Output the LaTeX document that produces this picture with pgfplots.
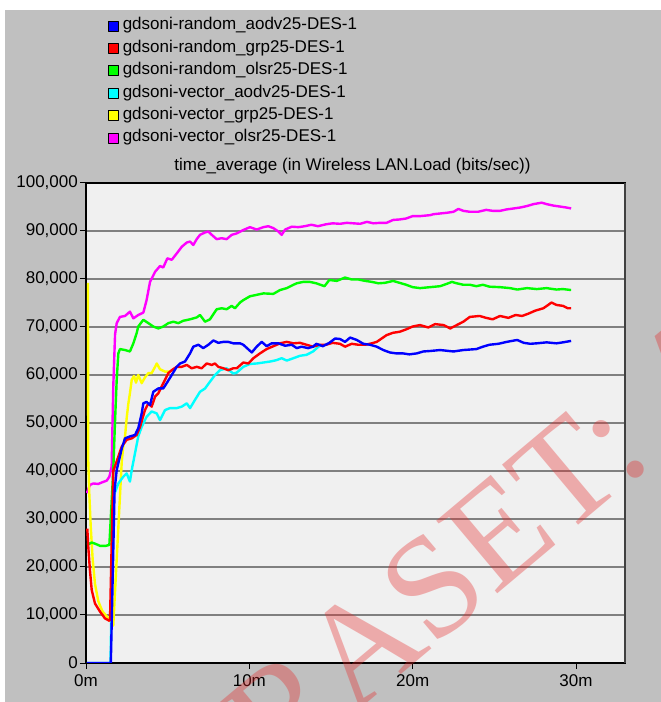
\documentclass[border=0pt]{standalone}
\usepackage{pgfplots}
\pgfplotsset{compat=1.18}
\usepackage{fontspec}
\setmainfont{Liberation Sans}
\newfontfamily\wmfont{Liberation Serif}
\definecolor{outerbg}{RGB}{192,192,192}
\definecolor{plotbg}{RGB}{240,240,240}
\definecolor{gridc}{RGB}{128,128,128}
\definecolor{cBlue}{RGB}{0,0,255}
\definecolor{cRed}{RGB}{255,0,0}
\definecolor{cGreen}{RGB}{0,255,0}
\definecolor{cCyan}{RGB}{0,255,255}
\definecolor{cYellow}{RGB}{255,255,0}
\definecolor{cMagenta}{RGB}{255,0,255}
\definecolor{wmred}{RGB}{230,40,40}
\newcommand{\chartfont}{\fontsize{17bp}{20bp}\selectfont}
\begin{document}
\begin{tikzpicture}
\fill[white] (0bp,0bp) rectangle (661bp,702bp);
\fill[outerbg] (5bp,0bp) rectangle (661bp,692bp);
\begin{axis}[
  at={(86bp,39bp)}, anchor=south west,
  width=539bp, height=480bp, scale only axis,
  xmin=0, xmax=33, ymin=0, ymax=100000,
  axis background/.style={fill=plotbg},
  xtick={0,10,20,30}, xticklabels={0m,10m,20m,30m},
  ytick={0,10000,...,100000},
  scaled y ticks=false,
  yticklabel style={/pgf/number format/fixed, /pgf/number format/1000 sep={,}, /pgf/number format/assume math mode=true, inner sep=2bp},
  xticklabel style={inner sep=5bp},
  tick label style={font=\chartfont},
  tick align=outside, tick pos=left,
  major tick length=6bp,
  tick style={black, line width=1bp},
  ymajorgrids, grid style={color=gridc, line width=1.4bp},
  axis line style={line width=1.5bp, black},
  title={time\_average (in Wireless LAN.Load (bits/sec))},
  title style={font=\chartfont, at={(axis description cs:0.5,1)}, anchor=base, yshift=7bp, xshift=-3bp, inner sep=0pt},
  legend style={at={(axis description cs:0.0408,1.3438)}, anchor=north west, draw=none, fill=none, inner sep=0pt, outer sep=0pt, font=\chartfont, row sep=6.4bp, column sep=4bp, nodes={inner sep=0pt, text height=12bp, text depth=4bp}},
  legend cell align=left,
  reverse legend,
  legend image code/.code={\draw[#1, draw=black, fill, line width=0.8bp] (0bp,-5bp) rectangle (10bp,5bp);},
  every axis plot/.append style={line width=2.4bp, line join=round},
]
% magenta: vector_olsr
\addplot[color=cMagenta] coordinates {(0.05,35400) (0.24,37100) (0.45,37400) (0.75,37300) (0.96,37600) (1.27,38000) (1.43,38800) (1.57,40900) (1.67,57600) (1.78,68500) (1.88,70800) (2.08,72100) (2.39,72300) (2.69,73200) (2.9,71800) (3.2,72500) (3.51,73000) (3.71,75600) (3.92,79400) (4.23,81500) (4.53,82700) (4.73,82400) (4.98,84300) (5.25,84000) (5.55,85300) (5.86,86700) (6.17,87600) (6.37,87800) (6.57,87100) (6.78,88300) (6.98,89200) (7.29,89700) (7.49,89900) (7.7,89200) (8.0,88300) (8.31,88500) (8.61,88300) (8.92,89200) (9.23,89500) (9.63,90200) (10.04,90800) (10.45,90300) (10.86,90800) (11.16,91000) (11.47,90600) (11.78,89900) (11.98,89200) (12.19,90300) (12.6,90900) (13.0,90800) (13.4,91000) (13.8,91300) (14.2,91000) (14.7,91400) (15.1,91600) (15.55,91500) (15.96,91700) (16.37,91600) (16.78,91500) (17.2,91900) (17.6,91600) (18.0,91700) (18.4,91700) (18.8,92300) (19.2,92400) (19.6,92600) (20.0,93100) (20.45,93100) (21.07,93300) (21.27,93500) (22.1,93800) (22.5,94000) (22.8,94600) (23.1,94200) (23.5,94000) (24.0,94000) (24.5,94400) (24.9,94200) (25.35,94200) (25.76,94500) (26.2,94700) (26.6,94900) (27.0,95200) (27.4,95600) (27.9,95900) (28.2,95600) (28.6,95300) (29.0,95100) (29.4,94900) (29.7,94700)};
\addlegendentry{gdsoni-vector\_olsr25-DES-1}
% yellow: vector_grp
\addplot[color=cYellow] coordinates {(0.12,79200) (0.13,60000) (0.14,42000) (0.2,35400) (0.29,28400) (0.41,21500) (0.55,16500) (0.75,12900) (1.0,10800) (1.3,9600) (1.45,9000) (1.67,7800) (2.19,42000) (2.28,45100) (2.39,47200) (2.49,51000) (2.59,54000) (2.69,56200) (2.8,59000) (2.94,59800) (3.06,58400) (3.2,60000) (3.41,58300) (3.61,59500) (3.82,60400) (4.02,60400) (4.23,61700) (4.33,62400) (4.53,61200) (4.84,60700) (5.14,60700)};
\addlegendentry{gdsoni-vector\_grp25-DES-1}
% cyan: vector_aodv
\addplot[color=cCyan] coordinates {(0.05,0) (1.5,0) (1.67,34600) (1.98,37400) (2.28,38800) (2.49,39500) (2.69,37800) (2.8,40200) (3.0,43700) (3.2,47200) (3.41,49200) (3.71,51300) (4.02,52400) (4.33,52000) (4.53,50600) (4.84,52700) (5.14,53100) (5.55,53100) (5.86,53400) (6.17,54100) (6.37,53100) (6.67,54800) (6.98,56500) (7.29,57200) (7.59,58600) (7.9,60000) (8.2,61000) (8.61,61400) (9.02,60300) (9.23,60500) (9.63,61700) (10.04,62300) (10.45,62400) (10.86,62600) (11.27,62800) (11.67,63100) (11.98,63500) (12.29,63000) (12.7,63500) (13.1,64000) (13.5,64200) (13.9,64900) (14.2,65800) (14.4,66300)};
\addlegendentry{gdsoni-vector\_aodv25-DES-1}
% green: random_olsr
\addplot[color=cGreen] coordinates {(0.08,24600) (0.35,25100) (0.6,24800) (0.86,24400) (1.2,24400) (1.43,24600) (1.67,40200) (1.78,50600) (1.88,59000) (1.98,64500) (2.08,65400) (2.39,65200) (2.69,64900) (2.9,66600) (3.1,68700) (3.2,70100) (3.51,71500) (3.82,70800) (4.12,70100) (4.43,69700) (4.73,70100) (5.04,70800) (5.35,71100) (5.65,70800) (5.96,71300) (6.37,71600) (6.78,72000) (6.98,72500) (7.29,71100) (7.59,71600) (8.0,73700) (8.31,73900) (8.61,73700) (8.92,74400) (9.12,73900) (9.43,75100) (9.63,75600) (10.04,76400) (10.45,76700) (10.86,77000) (11.47,76900) (11.88,77700) (12.29,78100) (12.7,78800) (12.9,79100) (13.3,79400) (13.7,79400) (14.1,79100) (14.6,78500) (14.9,79800) (15.35,79600) (15.86,80300) (16.27,79900) (16.67,79900) (17.1,79600) (17.5,79400) (17.9,79100) (18.3,79200) (18.8,79600) (19.2,79200) (19.6,78800) (20.0,78300) (20.45,78100) (21.07,78300) (21.68,78500) (22.1,79000) (22.4,79400) (22.7,79100) (23.1,78800) (23.5,78800) (23.9,78500) (24.3,78800) (24.7,78400) (25.35,78300) (25.96,78100) (26.4,77800) (27.0,78100) (27.6,77900) (28.2,78100) (28.8,77800) (29.2,77900) (29.7,77700)};
\addlegendentry{gdsoni-random\_olsr25-DES-1}
% red: random_grp
\addplot[color=cRed] coordinates {(0.08,28000) (0.14,24200) (0.24,19400) (0.35,15200) (0.55,12400) (0.86,10700) (1.16,9300) (1.43,8800) (1.47,9000) (1.67,40000) (1.98,43000) (2.19,45100) (2.49,46500) (2.8,46800) (3.1,47500) (3.31,49200) (3.61,52700) (3.82,54100) (4.02,53400) (4.23,55500) (4.43,56200) (4.63,57600) (4.84,59000) (5.04,60400) (5.25,61000) (5.55,61700) (5.86,61700) (6.17,62100) (6.47,61400) (6.78,61700) (7.08,61400) (7.39,62400) (7.7,62100) (7.9,62400) (8.1,61700) (8.41,61400) (8.71,61000) (9.02,61400) (9.23,61400) (9.63,62600) (9.94,62400) (10.25,63500) (10.65,64500) (11.06,65400) (11.47,66000) (11.88,66600) (12.29,66900) (12.7,66600) (13.1,66700) (13.5,66300) (13.9,65900) (14.3,66300) (14.7,66300) (15.1,66700) (15.55,66500) (15.86,65900) (16.27,66500) (16.67,66300) (17.1,66300) (17.5,66600) (17.8,66900) (18.1,67600) (18.4,68300) (18.8,68800) (19.2,69000) (19.6,69500) (20.0,70100) (20.45,70400) (20.96,69900) (21.37,70600) (21.9,70400) (22.3,69700) (22.7,70400) (23.1,71100) (23.5,72100) (24.1,72300) (24.5,71900) (24.9,71600) (25.35,72300) (25.86,71900) (26.3,72500) (26.7,72300) (27.1,72800) (27.5,73400) (28.0,73900) (28.3,74600) (28.5,75100) (28.8,74600) (29.2,74400) (29.5,73900) (29.7,73900)};
\addlegendentry{gdsoni-random\_grp25-DES-1}
% blue: random_aodv
\addplot[color=cBlue] coordinates {(0.05,0) (1.52,0) (1.75,36000) (1.88,40200) (2.19,44700) (2.39,46800) (2.69,47200) (3.0,47500) (3.2,48900) (3.41,52000) (3.51,54100) (3.71,54400) (3.92,53700) (4.12,56500) (4.43,57200) (4.73,57200) (4.94,58300) (5.25,60000) (5.55,61700) (5.76,62400) (6.06,62800) (6.37,64500) (6.57,65900) (6.88,66300) (7.18,65600) (7.49,66300) (7.80,67200) (8.10,66700) (8.41,66900) (8.71,66900) (9.02,66600) (9.43,66600) (9.63,66300) (10.15,64700) (10.45,65900) (10.76,66900) (11.06,66000) (11.37,66600) (11.78,66600) (12.19,66100) (12.6,66300) (12.9,65600) (13.2,65900) (13.6,65600) (13.9,65900) (14.1,66500) (14.5,66000) (14.9,66700) (15.25,67600) (15.55,67500) (15.86,66900) (16.17,67800) (16.58,67300) (16.98,66500) (17.39,66300) (17.8,65900) (18.2,65200) (18.6,64700) (19.0,64500) (19.4,64500) (19.8,64300) (20.25,64500) (20.65,64900) (21.07,65000) (21.68,65200) (22.5,64900) (23.1,65200) (23.9,65400) (24.3,65900) (24.7,66300) (25.25,66500) (25.76,66900) (26.4,67300) (26.8,66700) (27.2,66500) (27.6,66600) (28.2,66800) (28.8,66600) (29.2,66800) (29.7,67100)};
\addlegendentry{gdsoni-random\_aodv25-DES-1}
\end{axis}
% right frame edge in dark grey, as in the reference
\draw[line width=1.5bp, color=black!75] (625bp,39bp) -- (625bp,519bp);
% watermark
\node[rotate=40, anchor=base east, text=wmred, opacity=0.35, inner sep=0pt, font=\wmfont\fontsize{145bp}{145bp}\selectfont] at (352bp,-14bp) {©IJR};
\node[rotate=40, anchor=base west, text=wmred, opacity=0.35, inner sep=0pt, font=\wmfont\fontsize{145bp}{145bp}\selectfont] at (352bp,-14bp) {ASET: All Rights are Reserved};
\pgfresetboundingbox
\useasboundingbox (0bp,0bp) rectangle (661bp,702bp);
\end{tikzpicture}
\end{document}
